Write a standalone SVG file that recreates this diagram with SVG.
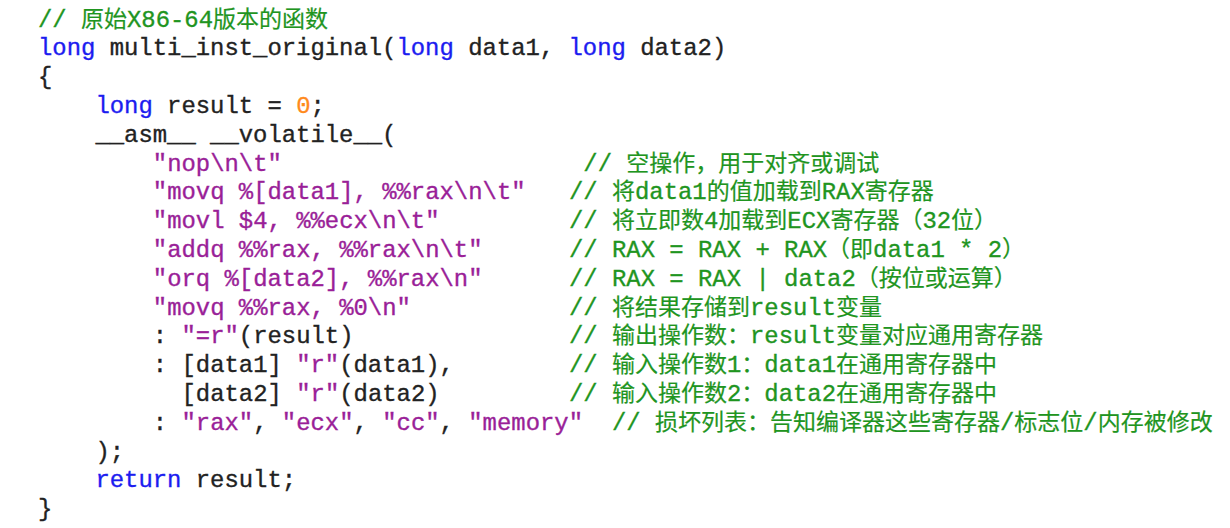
<svg xmlns="http://www.w3.org/2000/svg" width="1230" height="528" viewBox="0 0 1230 528" xml:space="preserve">
<style>
text{font-family:"Liberation Mono","Noto Sans CJK SC",monospace;font-size:23.9px;fill:#222222;stroke-width:0.35px;stroke:#222222}
.kw{fill:#1c1cf0;stroke:#1c1cf0}
.s{fill:#9a1f98;stroke:#9a1f98}
.n{fill:#ff8a1c;stroke:#ff8a1c}
text.c{fill:#1f951f;stroke:#1f951f}
.h{font-family:"Noto Sans CJK SC",sans-serif;font-size:23px;stroke-width:0.2px}
</style>
<rect x="0" y="0" width="1230" height="528" fill="#ffffff"/>
<g id="code">
<text class="c" x="38" y="26.5">// <tspan class="h">原始</tspan>X86-64<tspan class="h">版本的函数</tspan></text>
<text x="38" y="55.3"><tspan class="kw">long</tspan> multi_inst_original(<tspan class="kw">long</tspan> data1, <tspan class="kw">long</tspan> data2)</text>
<text x="38" y="84.1">{</text>
<text x="95.4" y="112.9"><tspan class="kw">long</tspan> result = <tspan class="n">0</tspan>;</text>
<text x="95.4" y="141.7">__asm__ __volatile__(</text>
<text class="s" x="152.8" y="170.5">"nop\n\t"</text>
<text class="s" x="152.8" y="199.3">"movq %[data1], %%rax\n\t"</text>
<text class="s" x="152.8" y="228.1">"movl $4, %%ecx\n\t"</text>
<text class="s" x="152.8" y="256.9">"addq %%rax, %%rax\n\t"</text>
<text class="s" x="152.8" y="285.7">"orq %[data2], %%rax\n"</text>
<text class="s" x="152.8" y="314.5">"movq %%rax, %0\n"</text>
<text x="152.8" y="343.3">: <tspan class="s">"=r"</tspan>(result)</text>
<text x="152.8" y="372.1">: [data1] <tspan class="s">"r"</tspan>(data1),</text>
<text x="181.5" y="400.9">[data2] <tspan class="s">"r"</tspan>(data2)</text>
<text x="152.8" y="429.7">: <tspan class="s">"rax"</tspan>, <tspan class="s">"ecx"</tspan>, <tspan class="s">"cc"</tspan>, <tspan class="s">"memory"</tspan></text>
<text x="95.4" y="458.5">);</text>
<text x="95.4" y="487.3"><tspan class="kw">return</tspan> result;</text>
<text x="38" y="516.1">}</text>
</g>
<g id="comments">
<text class="c" x="583.3" y="170.5">// <tspan class="h">空操作，用于对齐或调试</tspan></text>
<text class="c" x="569" y="199.3">// <tspan class="h">将</tspan>data1<tspan class="h">的值加载到</tspan>RAX<tspan class="h">寄存器</tspan></text>
<text class="c" x="569" y="228.1">// <tspan class="h">将立即数</tspan>4<tspan class="h">加载到</tspan>ECX<tspan class="h">寄存器（</tspan>32<tspan class="h">位）</tspan></text>
<text class="c" x="569" y="256.9">// RAX = RAX + RAX<tspan class="h">（即</tspan>data1 * 2<tspan class="h">）</tspan></text>
<text class="c" x="569" y="285.7">// RAX = RAX | data2<tspan class="h">（按位或运算）</tspan></text>
<text class="c" x="569" y="314.5">// <tspan class="h">将结果存储到</tspan>result<tspan class="h">变量</tspan></text>
<text class="c" x="569" y="343.3">// <tspan class="h">输出操作数：</tspan>result<tspan class="h">变量对应通用寄存器</tspan></text>
<text class="c" x="569" y="372.1">// <tspan class="h">输入操作数</tspan>1<tspan class="h">：</tspan>data1<tspan class="h">在通用寄存器中</tspan></text>
<text class="c" x="569" y="400.9">// <tspan class="h">输入操作数</tspan>2<tspan class="h">：</tspan>data2<tspan class="h">在通用寄存器中</tspan></text>
<text class="c" x="612" y="429.7">// <tspan class="h">损坏列表：告知编译器这些寄存器</tspan>/<tspan class="h">标志位</tspan>/<tspan class="h">内存被修改</tspan></text>
</g>
</svg>
